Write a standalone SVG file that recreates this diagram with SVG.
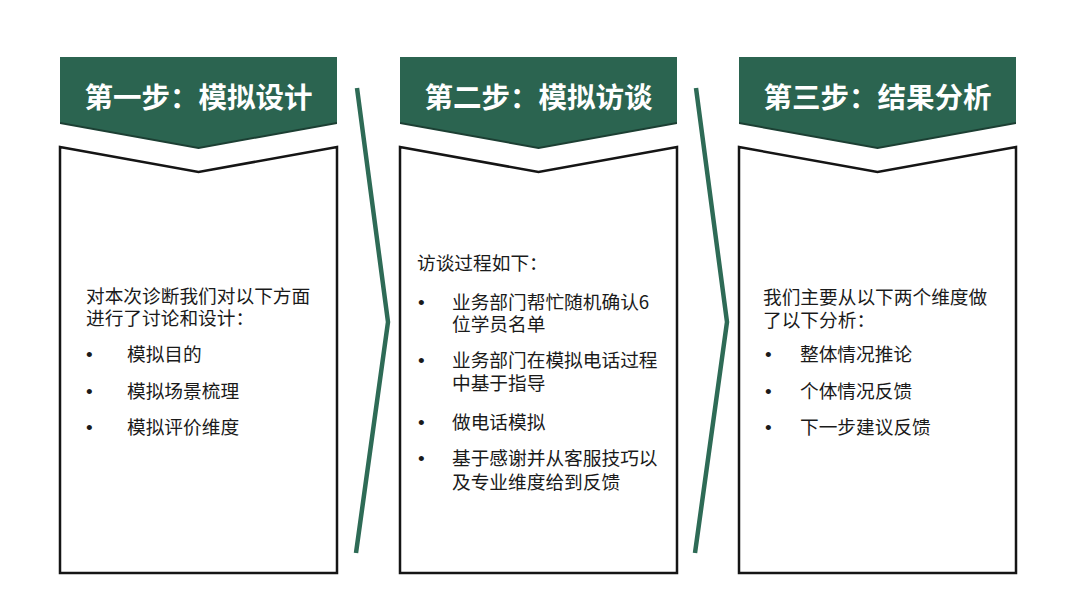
<svg xmlns="http://www.w3.org/2000/svg" width="1080" height="608" viewBox="0 0 1080 608">
<style>
.hdr{fill:#2b6450;}
.hdrsh{fill:#1c3f33;}
.box{fill:#ffffff;stroke:#151515;stroke-width:2.5;stroke-linejoin:miter;}
.ht{font-family:"Noto Sans CJK SC","Noto Sans",sans-serif;font-weight:700;font-size:28.5px;fill:#ffffff;text-anchor:middle;}
.bt{font-family:"Noto Sans CJK SC","Noto Sans",sans-serif;font-size:18.7px;fill:#1a1a1a;}
.bl{font-family:"Liberation Sans",Arial,sans-serif;font-size:19px;fill:#1a1a1a;}
.chev{fill:none;stroke:#2e6b56;stroke-width:4.5;stroke-linejoin:miter;}
</style>
<rect width="1080" height="608" fill="#ffffff"/>
<g id="connectors">
<polyline class="chev" points="357,88 388,322 356,553"/>
<polyline class="chev" points="696,88 727,322 695,553"/>
</g>
<g id="step1">
<path class="hdrsh" d="M60,58 H337 V124 L198.5,149 L60,124 Z"/>
<path class="hdr" d="M60,57 H337 V122 L198.5,147 L60,122 Z"/>
<text class="ht" x="198.5" y="108">第一步：模拟设计</text>
<path class="box" d="M60,147 L198.5,172 L337,147 V573 H60 Z"/>
<text class="bt" x="86" y="303">对本次诊断我们对以下方面<tspan x="86" dy="22">进行了讨论和设计：</tspan></text>
<text class="bl" x="86" y="361">•</text>
<text class="bt" x="127" y="361">模拟目的</text>
<text class="bl" x="86" y="398">•</text>
<text class="bt" x="127" y="398">模拟场景梳理</text>
<text class="bl" x="86" y="434">•</text>
<text class="bt" x="127" y="434">模拟评价维度</text>
</g>
<g id="step2">
<path class="hdrsh" d="M400,58 H677 V124 L538.5,149 L400,124 Z"/>
<path class="hdr" d="M400,57 H677 V122 L538.5,147 L400,122 Z"/>
<text class="ht" x="538.5" y="108">第二步：模拟访谈</text>
<path class="box" d="M400,147 L538.5,172 L677,147 V573 H400 Z"/>
<text class="bt" x="417" y="270">访谈过程如下：</text>
<text class="bl" x="418" y="309">•</text>
<text class="bt" x="452" y="309">业务部门帮忙随机确认6<tspan x="452" dy="22">位学员名单</tspan></text>
<text class="bl" x="418" y="367">•</text>
<text class="bt" x="452" y="367">业务部门在模拟电话过程<tspan x="452" dy="23">中基于指导</tspan></text>
<text class="bl" x="418" y="429">•</text>
<text class="bt" x="452" y="429">做电话模拟</text>
<text class="bl" x="418" y="465">•</text>
<text class="bt" x="452" y="465">基于感谢并从客服技巧以<tspan x="452" dy="24">及专业维度给到反馈</tspan></text>
</g>
<g id="step3">
<path class="hdrsh" d="M739,58 H1016 V124 L877.5,149 L739,124 Z"/>
<path class="hdr" d="M739,57 H1016 V122 L877.5,147 L739,122 Z"/>
<text class="ht" x="877.5" y="108">第三步：结果分析</text>
<path class="box" d="M739,147 L877.5,172 L1016,147 V573 H739 Z"/>
<text class="bt" x="763" y="304">我们主要从以下两个维度做<tspan x="763" dy="23">了以下分析：</tspan></text>
<text class="bl" x="765" y="361">•</text>
<text class="bt" x="800" y="361">整体情况推论</text>
<text class="bl" x="765" y="398">•</text>
<text class="bt" x="800" y="398">个体情况反馈</text>
<text class="bl" x="765" y="434">•</text>
<text class="bt" x="800" y="434">下一步建议反馈</text>
</g>
</svg>
